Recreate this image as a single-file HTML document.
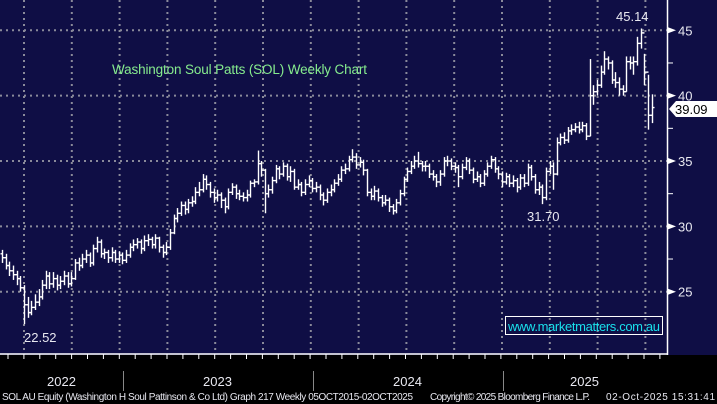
<!DOCTYPE html>
<html><head><meta charset="utf-8"><style>
html,body{margin:0;padding:0;background:#000;}
svg{display:block;font-family:"Liberation Sans",sans-serif;}
</style></head><body>
<svg id="chart" width="717" height="404" viewBox="0 0 717 404" xmlns="http://www.w3.org/2000/svg">
<rect x="0" y="0" width="717" height="355" fill="#0f0e45"/>
<rect x="0" y="355" width="717" height="49" fill="#000"/>
<g id="grid"></g>
<g id="bars"></g>
<g id="axes"></g>
<text x="112" y="74" fill="#86ec8e" font-size="13.5" textLength="255">Washington Soul Patts (SOL) Weekly Chart</text>
<text x="616" y="21" fill="#e8e8f0" font-size="13">45.14</text>
<text x="527" y="221" fill="#e8e8f0" font-size="13">31.70</text>
<text x="24" y="342" fill="#e8e8f0" font-size="13">22.52</text>
<g>
<rect x="505.5" y="316.5" width="157" height="18" fill="none" stroke="#fff" stroke-width="1"/>
<text x="508" y="331" fill="#19e0ec" font-size="13" textLength="152">www.marketmatters.com.au</text>
</g>
<g>
<polygon points="669,109 676,101 717,101 717,117 676,117" fill="#fff"/>
<text x="675" y="114" fill="#000" font-size="13">39.09</text>
</g>
<text x="47" y="386" fill="#e8e8f0" font-size="13">2022</text>
<text x="203" y="386" fill="#e8e8f0" font-size="13">2023</text>
<text x="393" y="386" fill="#e8e8f0" font-size="13">2024</text>
<text x="570" y="386" fill="#e8e8f0" font-size="13">2025</text>
<line x1="123.5" y1="371" x2="123.5" y2="391" stroke="#888"/>
<line x1="313.5" y1="371" x2="313.5" y2="391" stroke="#888"/>
<line x1="503.5" y1="371" x2="503.5" y2="391" stroke="#888"/>
<text x="2" y="400" fill="#e8e8f0" font-size="10" textLength="411">SOL AU Equity (Washington H Soul Pattinson &amp; Co Ltd) Graph 217 Weekly 05OCT2015-02OCT2025</text>
<text x="430" y="400" fill="#e8e8f0" font-size="10" textLength="160">Copyright© 2025 Bloomberg Finance L.P.</text>
<text x="606" y="400" fill="#e8e8f0" font-size="10" textLength="109">02-Oct-2025 15:31:41</text>
</svg>
<script>
const closes = [27.6,27.0,26.6,26.3,26.0,25.3,24.0,23.4,23.8,24.2,24.6,25.5,26.2,25.6,26.0,25.5,25.8,26.2,25.6,26.0,
27.2,27.0,27.5,27.8,27.2,28.3,28.8,27.9,28.0,27.6,28.0,27.5,27.8,27.4,27.8,28.4,28.6,28.8,28.3,28.9,
29.0,28.6,29.1,28.4,28.0,28.4,29.5,30.6,31.0,31.6,31.3,31.8,31.9,32.6,32.8,33.6,33.2,32.6,32.2,32.4,
32.0,31.5,32.6,33.0,32.5,32.3,32.2,32.4,33.3,33.4,34.8,34.3,32.5,32.8,33.5,34.4,34.0,34.6,33.8,34.2,
33.0,33.2,32.6,33.2,33.5,32.9,33.0,32.4,32.0,32.6,32.8,33.3,33.6,34.3,34.4,35.1,35.3,34.7,34.9,34.3,
32.6,32.3,32.7,32.2,31.8,32.0,31.5,31.2,31.8,32.5,33.6,34.2,34.6,35.0,34.8,34.6,34.6,34.0,33.8,33.4,
34.0,35.0,35.0,34.6,34.5,33.8,34.5,35.0,34.3,33.6,33.8,33.3,34.0,34.6,35.1,34.4,34.0,33.4,33.8,33.3,
33.5,33.0,33.7,33.3,34.5,33.8,32.8,33.0,32.2,34.2,34.6,34.0,36.4,36.8,36.6,37.3,37.4,37.6,37.4,37.7,
36.9,40.0,40.3,40.8,41.8,42.8,42.5,41.2,41.0,40.5,40.3,42.6,42.5,42.6,44.0,44.8,41.8,38.5,39.09];
const highs = [28.2,27.9,27.3,27.0,26.6,26.2,25.5,24.6,24.3,24.8,25.2,25.9,26.6,26.5,26.5,26.3,26.2,26.6,26.5,26.5,
27.5,27.6,27.9,28.2,28.0,28.6,29.2,29.0,28.3,28.2,28.4,28.2,28.1,28.0,28.2,28.7,29.0,29.1,29.0,29.3,
29.4,29.2,29.4,29.2,28.6,28.8,29.8,30.9,31.4,31.9,31.9,32.1,32.3,33.0,33.4,34.0,33.9,33.4,32.9,32.8,
32.6,32.2,32.9,33.3,33.2,32.8,32.6,32.8,33.5,33.6,35.8,35.0,34.4,33.2,33.8,34.7,34.6,34.9,34.8,34.6,
34.4,33.6,33.4,33.6,33.9,33.7,33.4,33.2,32.6,32.9,33.2,33.6,34.0,34.6,34.8,35.4,35.9,35.6,35.3,35.1,
34.4,32.9,33.1,32.9,32.4,32.4,32.2,31.7,32.1,32.8,33.8,34.5,35.0,35.4,35.7,35.0,35.0,34.8,34.3,34.0,
34.3,35.3,35.4,35.2,34.9,34.7,34.8,35.3,35.2,34.5,34.2,34.0,34.3,34.9,35.4,35.3,34.6,34.2,34.1,34.0,
33.9,33.7,34.0,34.0,34.8,34.7,34.0,33.4,33.2,34.5,35.0,34.9,36.8,37.1,37.2,37.6,37.8,37.9,38.0,38.0,
37.9,42.8,40.8,41.2,42.3,43.4,43.0,42.7,41.8,41.4,40.8,43.0,43.0,43.0,44.5,45.14,43.2,41.6,40.1];
const lows = [27.2,26.7,26.2,25.9,25.5,25.0,22.52,23.0,23.2,23.6,23.9,24.4,25.2,25.2,25.3,25.1,25.2,25.5,25.3,25.4,
25.9,26.6,26.8,27.2,26.9,27.0,28.0,27.6,27.5,27.2,27.3,27.2,27.2,27.1,27.2,27.6,28.1,28.3,27.9,28.1,
28.5,28.3,28.3,28.0,27.6,27.8,28.2,29.4,30.3,30.8,30.9,31.0,31.5,31.7,32.3,32.6,32.8,32.2,31.8,31.9,
31.4,31.0,31.3,32.4,32.1,32.0,31.9,31.9,32.2,33.0,33.2,33.8,31.0,32.2,32.5,33.3,33.6,33.8,33.5,33.4,
32.8,32.8,32.3,32.4,33.0,32.6,32.6,32.0,31.6,31.8,32.3,32.6,33.1,33.4,34.0,34.2,34.9,34.4,34.5,33.9,
32.3,32.0,32.0,31.9,31.5,31.6,31.1,30.9,31.0,31.6,32.3,33.4,34.0,34.4,34.5,34.2,34.2,33.7,33.5,33.0,
33.1,33.8,34.6,34.3,34.1,33.0,33.6,34.3,34.0,33.3,33.4,33.0,33.1,33.8,34.4,34.1,33.6,33.0,33.2,33.0,
33.0,32.6,32.8,33.0,33.1,33.5,32.5,32.4,31.7,32.0,34.0,32.8,33.9,36.2,36.3,36.4,37.0,37.2,37.1,37.2,
36.6,36.9,39.3,40.0,40.6,41.6,42.0,40.9,40.6,40.0,40.0,40.3,42.0,41.6,42.3,43.6,40.8,37.4,37.9];
const yTicks = [25,30,35,40,45];
const yMinorTicks = [27.5,32.5,37.5,42.5];

const NS = 'http://www.w3.org/2000/svg';
const yScale = v => 161 - (v - 35) * 13.07;
const xScale = i => 2 + i * 3.65;
function mk(tag, attrs, parent){ const e=document.createElementNS(NS,tag); for(const k in attrs) e.setAttribute(k,attrs[k]); parent.appendChild(e); return e; }

const grid = document.getElementById('grid');
yTicks.forEach(v=>{
  const l = mk('line',{x1:0,x2:667,y1:yScale(v),y2:yScale(v),stroke:'#8a8a9a','stroke-width':2,'stroke-dasharray':'2,4'},grid);
  
  
});
for(let k=0;k<14;k++){
  const x = 24 + k*47.8;
  const l = mk('line',{x1:x,x2:x,y1:0,y2:354,stroke:'#8a8a9a','stroke-width':2,'stroke-dasharray':'2,4'},grid);
  
  
}

const bars = document.getElementById('bars');
closes.forEach((c,i)=>{
  const o = i===0 ? 27.9 : closes[i-1];
  const x = Math.round(xScale(i)) + 0.5;
  const g = mk('g',{stroke:'#fff','stroke-width':1.4},bars);
  
  
  mk('line',{x1:x,x2:x,y1:yScale(highs[i]),y2:yScale(lows[i])},g);
  mk('line',{x1:x-2,x2:x,y1:yScale(o),y2:yScale(o)},g);
  mk('line',{x1:x,x2:x+2,y1:yScale(c),y2:yScale(c)},g);
});

const axes = document.getElementById('axes');
const ax = mk('line',{x1:667.5,x2:667.5,y1:0,y2:355,stroke:'#fff','stroke-width':1.5},axes);


const bx = mk('line',{x1:0,x2:668,y1:354,y2:354,stroke:'#fff','stroke-width':1.5},axes);


for(let k=0;k<42;k++){
  const x = 8 + k*15.9;
  if(x>666) break;
  const t = mk('line',{x1:x,x2:x,y1:354,y2:359,stroke:'#fff','stroke-width':1},axes);
  
  
}
yTicks.forEach(v=>{
  const y = yScale(v);
  const p = mk('polygon',{points:`668,${y-3} 676,${y} 668,${y+3}`,fill:'#fff'},axes);
  
  
  const t = mk('text',{x:678,y:y+5,fill:'#e8e8f0','font-size':13},axes);
  
  
  t.textContent = String(v);
});
yMinorTicks.forEach(v=>{
  const y = yScale(v);
  const l = mk('line',{x1:668,x2:673,y1:y,y2:y,stroke:'#fff','stroke-width':1},axes);
  
  
});
</script>
</body></html>
